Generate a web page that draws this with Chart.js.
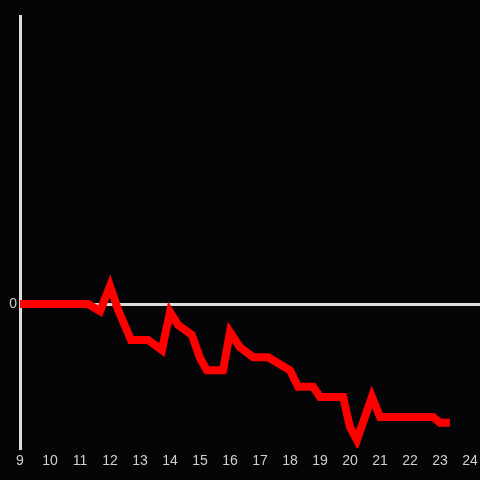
<!DOCTYPE html>
<html>
<head>
<meta charset="utf-8">
<script src="https://cdn.jsdelivr.net/npm/chart.js@4"></script>
<style>
  html, body { margin: 0; padding: 0; background: #050407; }
  #wrap { width: 480px; height: 480px; }
</style>
</head>
<body>
<div id="wrap"><canvas id="myChart"></canvas></div>
<script>
// time of day (decimal hours) and value
const hours = [9, 11.27, 11.67, 12, 12.27, 12.7, 13.27, 13.73, 14, 14.27, 14.73, 15, 15.23, 15.77,
  16, 16.33, 16.77, 17.27, 18, 18.27, 18.77, 19, 19.77, 20, 20.23, 20.73, 21, 22.77, 23, 23.33];
const values = [0, 0, -0.5, 1.25, -0.4, -2.5, -2.5, -3.2, -0.55, -1.45, -2.15, -3.75, -4.6, -4.6,
  -1.95, -3.0, -3.7, -3.7, -4.6, -5.75, -5.75, -6.45, -6.45, -8.55, -9.45, -6.45, -7.85, -7.85, -8.25, -8.25];
const xTicks = [9, 10, 11, 12, 13, 14, 15, 16, 17, 18, 19, 20, 21, 22, 23, 24];

const points = hours.map((h, i) => ({ x: h, y: values[i] }));

const ctx = document.getElementById('myChart').getContext('2d');
new Chart(ctx, {
    type: 'line',
    data: {
        datasets: [{
            data: points,
            borderColor: '#ff0000',
            borderWidth: 8,
            borderJoinStyle: 'miter',
            pointRadius: 0,
            tension: 0
        }]
    },
    options: {
        responsive: true,
        maintainAspectRatio: false,
        animation: false,
        layout: { padding: { top: 16, left: 0, right: 0, bottom: 0 } },
        plugins: { legend: { display: false }, tooltip: { enabled: false } },
        scales: {
            x: {
                type: 'linear',
                min: 9,
                max: 24.333,
                afterBuildTicks: axis => { axis.ticks = xTicks.map(v => ({ value: v })); },
                afterFit: axis => {
                    axis.height = 32;
                    axis.paddingLeft = 0;
                    axis.paddingRight = 0;
                },
                grid: { display: false, drawTicks: false },
                border: { display: false },
                ticks: {
                    color: '#d0d0d0',
                    font: { family: 'Liberation Sans, Arial', size: 14 },
                    padding: 5,
                    maxRotation: 0,
                    autoSkip: false
                }
            },
            y: {
                min: -10,
                max: 20,
                afterBuildTicks: axis => { axis.ticks = [{ value: 0 }]; },
                afterFit: axis => { axis.width = 20; },
                grid: { color: '#dcdcdc', lineWidth: 3, drawTicks: false },
                border: { display: true, color: '#dcdcdc', width: 3 },
                ticks: {
                    color: '#d0d0d0',
                    font: { family: 'Liberation Sans, Arial', size: 14 },
                    padding: 3
                }
            }
        }
    }
});
</script>
</body>
</html>
